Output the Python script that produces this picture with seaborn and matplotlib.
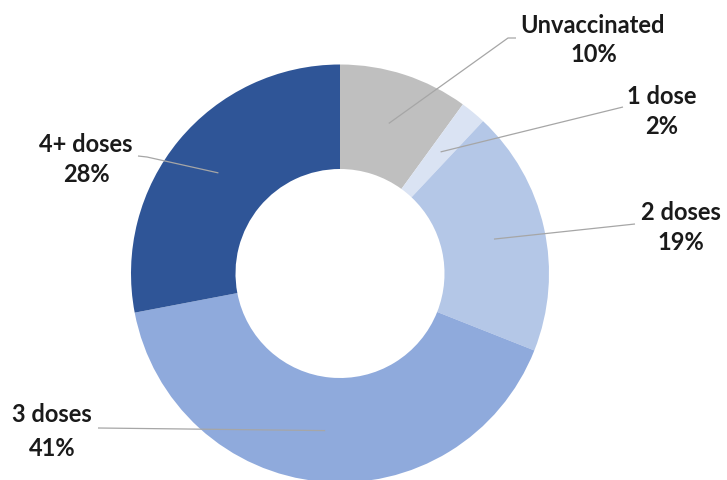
import numpy as np
import matplotlib.pyplot as plt
import seaborn as sns

# Plot settings
sns.set_theme(style="white")
plt.rcParams['font.family'] = ['Lato', 'DejaVu Sans']

# Data
categories = ['Unvaccinated', '1 dose', '2 doses', '3 doses', '4+ doses']
shares = [10, 2, 19, 41, 28]
colors = ['#BFBFBF', '#DAE3F3', '#B4C7E7', '#8FAADC', '#2F5597']

# Layout (figure pixels, measured from the top-left corner)
W, H = 727, 481
center_px = (340, 274.5)
radius_px = 209
name_pos = [(593, 25), (662, 96), (681, 212), (52, 415), (86, 144)]
pct_pos = [(594, 55), (662, 126), (681, 242), (52, 448), (86, 175)]
# leader line: (elbow, end) near the label, pixels
leader_pts = [
    [(508, 39), (516, 39)],
    [(623, 108)],
    [(635, 225)],
    [(98, 429)],
    [(147, 158), (138, 157)],
]


def to_data(px, py):
    return (px - center_px[0]) / radius_px, (center_px[1] - py) / radius_px


fig = plt.figure(figsize=(W / 100, H / 100), dpi=100)
ax = fig.add_axes([0, 0, 1, 1])

wedges, _ = ax.pie(
    shares,
    colors=colors,
    startangle=90,
    counterclock=False,
    radius=1,
    wedgeprops=dict(width=0.5, edgecolor='none', linewidth=0),
)

x0, y1 = to_data(0, 0)
x1, y0 = to_data(W, H)
ax.set_xlim(x0, x1)
ax.set_ylim(y0, y1)
ax.set_aspect('equal')
ax.axis('off')

# Leader lines from the middle of each ring segment
for w, pts in zip(wedges, leader_pts):
    mid = np.deg2rad((w.theta1 + w.theta2) / 2)
    r = 0.755
    xs = [r * np.cos(mid)]
    ys = [r * np.sin(mid)]
    for px, py in pts:
        dx, dy = to_data(px, py)
        xs.append(dx)
        ys.append(dy)
    ax.plot(xs, ys, color='#A6A6A6', lw=0.9, solid_capstyle='butt')

for cat, val, npos, ppos in zip(categories, shares, name_pos, pct_pos):
    ax.text(*to_data(*npos), cat, ha='center', va='center',
            fontsize=17, fontweight='bold', color='#1a1a1a')
    ax.text(*to_data(*ppos), f"{val}%", ha='center', va='center',
            fontsize=17, fontweight='bold', color='#1a1a1a')

fig.savefig('out.png', dpi=100, facecolor='white')
